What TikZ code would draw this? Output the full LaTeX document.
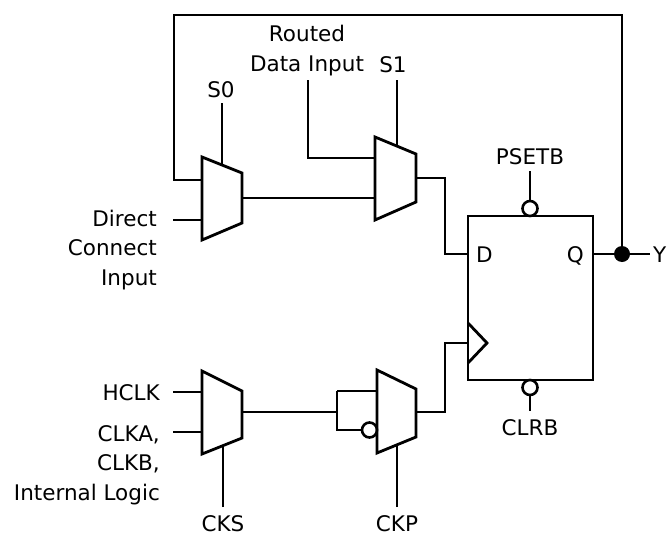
\documentclass[tikz,border=0pt]{standalone}
\usepackage{fontspec}
\setmainfont{DejaVu Sans}
\tikzset{
  wire/.style={line width=2.8pt},
  lbl/.style={inner sep=0pt, font=\fontsize{21.5}{29.5}\selectfont},
  bubble/.style={circle, draw, fill=white, line width=2.6pt, minimum size=15pt, inner sep=0pt},
  joint/.style={circle, fill, minimum size=16pt, inner sep=0pt}
}
\begin{document}
\begin{tikzpicture}[x=1pt,y=-1pt]
\useasboundingbox (0,0) rectangle (668,535);

% mux S0
\path (202,157) coordinate (m0tl);
\path (242,173) coordinate (m0tr);
\path (242,223) coordinate (m0br);
\path (202,240) coordinate (m0bl);
\path (202,180) coordinate (m0a);
\path (202,220) coordinate (m0b);
\path (242,198) coordinate (m0out);
\path (222,166) coordinate (m0sel);
\path (222,103) coordinate (s0end);
\path (221,97) node[lbl, anchor=base] (s0){S0};
\path (173,220) coordinate (dcin);
\path (157,285) node[lbl, anchor=base east, align=right] (dc){Direct\\Connect\\Input};

% mux S1
\path (375,137) coordinate (m1tl);
\path (416,154) coordinate (m1tr);
\path (416,202) coordinate (m1br);
\path (375,220) coordinate (m1bl);
\path (375,158) coordinate (m1a);
\path (375,198) coordinate (m1b);
\path (416,178) coordinate (m1out);
\path (397,146) coordinate (m1sel);
\path (397,80) coordinate (s1end);
\path (393,72) node[lbl, anchor=base] (s1){S1};
\path (308,80) coordinate (rdin);
\path (308,158) coordinate (rdbend);
\path (307,71) node[lbl, anchor=base, align=center] (rd){Routed\\Data Input};

% flip-flop
\path (468,216) coordinate (fftl);
\path (593,380) coordinate (ffbr);
\path (468,254) coordinate (ffd);
\path (593,254) coordinate (ffq);
\path (468,323) coordinate (ckt);
\path (487,343) coordinate (ckm);
\path (468,363) coordinate (ckb);
\path (468,343) coordinate (ffck);
\path (476,262) node[lbl, anchor=base west] (d){D};
\path (584,262) node[lbl, anchor=base east] (q){Q};
\path (530,208.5) node[bubble] (psbub){};
\path (530,171) coordinate (psend);
\path (530,164) node[lbl, anchor=base] (ps){PSETB};
\path (530,387.5) node[bubble] (clbub){};
\path (530,411) coordinate (clend);
\path (530,435) node[lbl, anchor=base] (cl){CLRB};
\path (445,178) coordinate (dbend1);
\path (445,254) coordinate (dbend2);

% output Y
\path (622,254) node[joint] (ydot){};
\path (650,254) coordinate (yend);
\path (653,262) node[lbl, anchor=base west] (y){Y};
\path (622,15) coordinate (fbtr);
\path (174,15) coordinate (fbtl);
\path (174,180) coordinate (fbbl);

% mux CKS
\path (202,371) coordinate (m2tl);
\path (242,391) coordinate (m2tr);
\path (242,438) coordinate (m2br);
\path (202,454) coordinate (m2bl);
\path (202,392) coordinate (m2a);
\path (202,432) coordinate (m2b);
\path (242,412) coordinate (m2out);
\path (223,445) coordinate (m2sel);
\path (223,507) coordinate (cksend);
\path (223,531) node[lbl, anchor=base] (cks){CKS};
\path (173,392) coordinate (hclkin);
\path (173,432) coordinate (clkin);
\path (160,400) node[lbl, anchor=base east] (hclk){HCLK};
\path (160,500) node[lbl, anchor=base east, align=right] (clk){CLKA,\\CLKB,\\Internal Logic};

% mux CKP
\path (377,370) coordinate (m3tl);
\path (416,389) coordinate (m3tr);
\path (416,437) coordinate (m3br);
\path (377,453) coordinate (m3bl);
\path (377,391) coordinate (m3a);
\path (369.5,430) node[bubble] (m3bub){};
\path (416,412) coordinate (m3out);
\path (397,445) coordinate (m3sel);
\path (397,507) coordinate (ckpend);
\path (397,531) node[lbl, anchor=base] (ckp){CKP};
\path (337,412) coordinate (lpm);
\path (337,391) coordinate (lpt);
\path (337,430) coordinate (lpb);
\path (445,412) coordinate (ckbend1);
\path (445,343) coordinate (ckbend2);

% draw
\begin{scope}[wire]
\draw (m0tl) -- (m0tr) -- (m0br) -- (m0bl) -- cycle;
\draw (m1tl) -- (m1tr) -- (m1br) -- (m1bl) -- cycle;
\draw (m2tl) -- (m2tr) -- (m2br) -- (m2bl) -- cycle;
\draw (m3tl) -- (m3tr) -- (m3br) -- (m3bl) -- cycle;
\draw (fftl) rectangle (ffbr);
\draw (ckt) -- (ckm) -- (ckb);

\draw (s0end) -- (m0sel);
\draw (s1end) -- (m1sel);
\draw (cksend) -- (m2sel);
\draw (ckpend) -- (m3sel);
\draw (dcin) -- (m0b);
\draw (rdin) -- (rdbend) -- (m1a);
\draw (m0out) -- (m1b);
\draw (m1out) -- (dbend1) -- (dbend2) -- (ffd);
\draw (ffq) -- (ydot) -- (yend);
\draw (ydot.center) -- (fbtr) -- (fbtl) -- (fbbl) -- (m0a);
\draw (psend) -- (psbub);
\draw (clbub) -- (clend);
\draw (hclkin) -- (m2a);
\draw (clkin) -- (m2b);
\draw (m2out) -- (lpm);
\draw (lpt) -- (lpb) -- (m3bub);
\draw (lpt) -- (m3a);
\draw (m3out) -- (ckbend1) -- (ckbend2) -- (ffck);
\end{scope}
\end{tikzpicture}
\end{document}
